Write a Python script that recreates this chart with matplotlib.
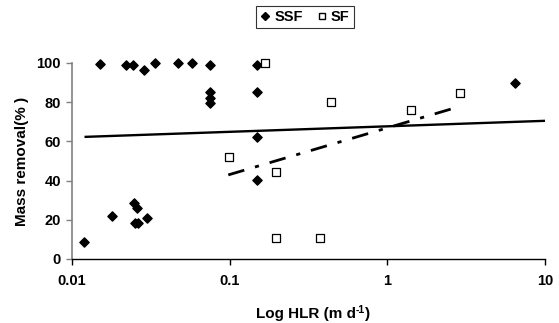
import matplotlib
matplotlib.use("Agg")
import matplotlib.pyplot as plt
from matplotlib.lines import Line2D

plt.rcParams['font.family'] = ['Liberation Sans', 'DejaVu Sans']
plt.rcParams['font.weight'] = 'bold'

# SSF data (diamonds)
ssf_x = [0.0120, 0.0150, 0.0180, 0.0220, 0.0243, 0.0249, 0.0257, 0.0250, 0.0262,
         0.0299, 0.0286, 0.0338, 0.0472, 0.0574, 0.0750, 0.0750, 0.0750, 0.0750,
         0.149, 0.149, 0.149, 0.149, 6.48]
ssf_y = [8.5, 99.5, 21.8, 98.8, 98.8, 28.7, 26.2, 18.4, 18.4,
         21.1, 96.3, 100.0, 100.0, 100.0, 98.8, 85.2, 82.1, 79.8,
         98.8, 85.0, 62.4, 40.5, 90.0]

# SF data (open squares)
sf_x = [0.099, 0.1675, 0.198, 0.198, 0.375, 0.44, 1.42, 2.88]
sf_y = [52.2, 99.8, 44.6, 10.7, 10.7, 79.9, 75.9, 84.7]

# Trend lines (endpoints on semilog axis)
ssf_trend_x = [0.012, 10.0]
ssf_trend_y = [62.3, 70.5]
sf_trend_x = [0.098, 2.9]
sf_trend_y = [42.9, 77.9]

x_ticks = [0.01, 0.1, 1, 10]
x_ticklabels = ['0.01', '0.1', '1', '10']
y_ticks = [0, 20, 40, 60, 80, 100]

W, H = 559, 323
fig = plt.figure(figsize=(W/100, H/100), dpi=100)
ax = fig.add_axes([72/W, 1-259/H, (545-72)/W, (259-63)/H])

ax.plot(ssf_trend_x, ssf_trend_y, color='black', lw=1.7, solid_capstyle='butt')
ax.plot(sf_trend_x, sf_trend_y, color='black', lw=2.0, linestyle=(0, (6, 4, 1.5, 4)))

ax.scatter(ssf_x, ssf_y, marker='D', s=22, color='black', zorder=3, clip_on=False)
ax.scatter(sf_x, sf_y, marker='s', s=26, facecolor='white', edgecolor='black',
           linewidths=0.9, zorder=3, clip_on=False)

ax.set_xscale('log')
ax.set_xlim(0.01, 10)
ax.set_ylim(0, 100)
ax.set_xticks(x_ticks)
ax.set_xticklabels(x_ticklabels)
ax.set_yticks(y_ticks)
ax.minorticks_off()
ax.tick_params(axis='both', labelsize=10.5, length=4, width=1, direction='out')
ax.tick_params(axis='x', pad=7)
ax.tick_params(axis='y', colors='#808080', labelcolor='black', pad=4)

for s in ['top', 'right']:
    ax.spines[s].set_visible(False)
ax.spines['left'].set_color('#808080')
ax.spines['left'].set_linewidth(1.2)
ax.spines['bottom'].set_color('black')
ax.spines['bottom'].set_linewidth(1.0)

ax.set_ylabel('Mass removal(% )', fontsize=11, fontweight='bold', labelpad=5)

# x label with superscript built from plain text pieces
renderer = fig.canvas.get_renderer()
parts = [("Log HLR (m d", 11, 0.0), ("-1", 7.5, 5.0), (")", 11, 0.0)]
base_y = 318
texts = []
widths = []
for s, fs, rise in parts:
    t = fig.text(0, 0, s, fontsize=fs, fontweight='bold', ha='left', va='baseline')
    texts.append(t)
    widths.append(t.get_window_extent(renderer).width)
total = sum(widths)
x = 313 - total / 2
for t, (s, fs, rise), w in zip(texts, parts, widths):
    t.set_position((x / W, 1 - (base_y - rise) / H))
    x += w

handles = [Line2D([], [], marker='D', color='black', linestyle='none', markersize=4),
           Line2D([], [], marker='s', markerfacecolor='white', markeredgecolor='black',
                  linestyle='none', markersize=5)]
leg = fig.legend(handles, ['SSF', 'SF'], loc='center', bbox_to_anchor=(305/W, 1-17/H),
                 ncol=2, frameon=True, fancybox=False, edgecolor='black',
                 prop={'size': 10.5, 'weight': 'bold'}, handlelength=0.7, handletextpad=0.3,
                 columnspacing=0.9, borderpad=0.3, borderaxespad=0)
leg.get_frame().set_linewidth(0.8)

fig.savefig('out.png', dpi=100)
